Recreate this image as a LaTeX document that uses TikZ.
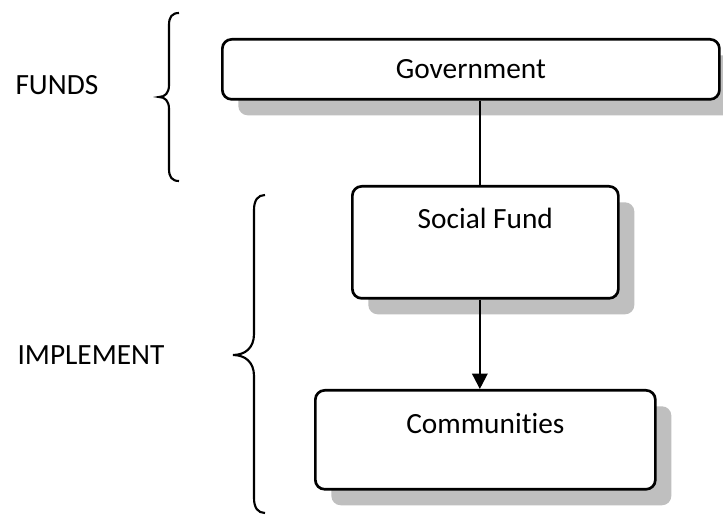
\documentclass[tikz,border=0pt]{standalone}
\usepackage{fontspec}
\setmainfont[Ligatures={NoCommon}]{Carlito}
\usetikzlibrary{arrows.meta,shadows}
\definecolor{shadowgray}{RGB}{191,191,191}
\begin{document}
\begin{tikzpicture}[x=0.375pt,y=-0.375pt,
  box/.style={draw=black,line width=1pt,fill=white,rounded corners=3.5pt,
    inner sep=0pt,anchor=north west,font=\fontsize{11}{13}\selectfont,
    drop shadow={shadow xshift=6pt,shadow yshift=-6pt,fill=shadowgray,opacity=1}},
  conn/.style={draw=black,line width=0.8pt},
  bracepath/.style={draw=black,line width=0.8pt},
  sidelabel/.style={anchor=base west,inner sep=0pt,font=\fontsize{11}{13}\selectfont}]
\useasboundingbox (0,0) rectangle (723,515);

\node[box,minimum width=186.4pt,text height=14.6pt,text depth=7.9pt] (gov) at (221,38) {Government};
\node[box,minimum width=99.75pt,text height=15.75pt,text depth=26.25pt] (sf) at (351,185) {Social Fund};
\node[box,minimum width=127.5pt,text height=16.1pt,text depth=21pt] (com) at (314,389) {Communities};

\node[sidelabel] (funds) at (15,95) {FUNDS};
\node[sidelabel] (impl) at (17,364) {IMPLEMENT};

\draw[conn] ([xshift=-2.06pt]sf.north |- gov.south) -- ([xshift=-2.06pt]sf.north);
\draw[conn,-{Triangle[width=5.8pt,length=5.8pt]}] ([xshift=-2.06pt]sf.south) -- ([xshift=-2.06pt]sf.south |- com.north);

% FUNDS brace
\draw[bracepath] (179,13) .. controls (172,13) and (169,17) .. (169,25)
  -- (169,85) .. controls (169,93) and (165,97) .. (159,97)
  .. controls (165,97) and (169,101) .. (169,109)
  -- (169,169) .. controls (169,177) and (172,181) .. (179,181);
% IMPLEMENT brace
\draw[bracepath] (265,195) .. controls (258,195) and (254,200) .. (254,210)
  -- (254,334) .. controls (254,348) and (245,355) .. (233,355)
  .. controls (245,355) and (254,362) .. (254,376)
  -- (254,498) .. controls (254,508) and (258,513) .. (265,513);
\end{tikzpicture}
\end{document}
